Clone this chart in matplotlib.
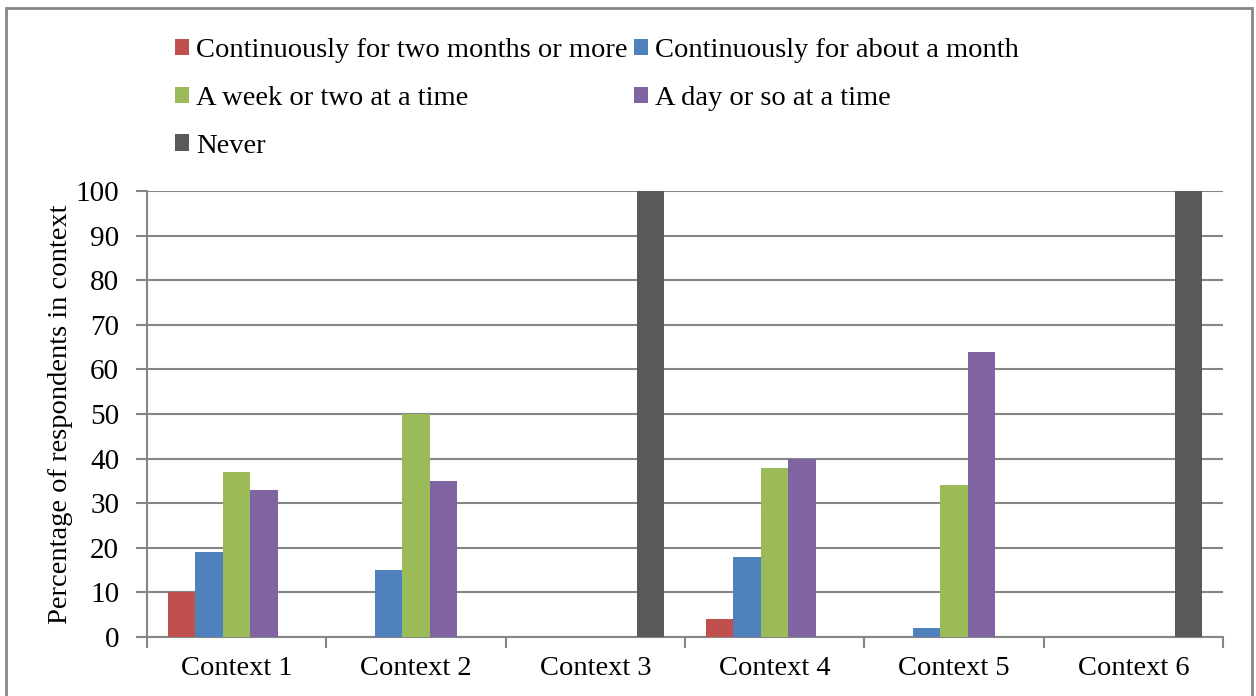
import numpy as np
import matplotlib.pyplot as plt
from matplotlib.patches import Patch, Rectangle

contexts = ['Context 1', 'Context 2', 'Context 3', 'Context 4', 'Context 5', 'Context 6']
series_names = ['Continuously for two months or more', 'Continuously for about a month',
                'A week or two at a time', 'A day or so at a time', 'Never']
two_months = [10, 0, 0, 4, 0, 0]
one_month = [19, 15, 0, 18, 2, 0]
week_or_two = [37, 50, 0, 38, 34, 0]
day_or_so = [33, 35, 0, 40, 64, 0]
never = [0, 0, 100, 0, 0, 100]
colors = ['#C0504D', '#4F81BD', '#9BBB59', '#8064A2', '#595959']

plt.rcParams['font.family'] = ['Liberation Serif', 'DejaVu Serif']

fig = plt.figure(figsize=(12.56, 6.96), dpi=100)
ax = fig.add_axes([147 / 1256, 1 - 637 / 696, (1223 - 147) / 1256, (637 - 191) / 696])

# chart border
fig.patches.append(Rectangle((6 / 1256, -0.1), (1252 - 6) / 1256, 1.1 - 8 / 696,
                             transform=fig.transFigure, fill=False,
                             edgecolor='#868686', linewidth=2))

x = np.arange(len(contexts))
width = 1 / 6.5
all_series = [two_months, one_month, week_or_two, day_or_so, never]
handles = []
for i, vals in enumerate(all_series):
    ax.bar(x + (i - 2) * width, vals, width, color=colors[i], zorder=3)
    handles.append(Patch(facecolor=colors[i], label=series_names[i]))

ax.set_xlim(-0.5, len(contexts) - 0.5)
ax.set_ylim(0, 100)
ax.set_yticks(range(0, 101, 10))
ax.yaxis.grid(True, color='#868686', linewidth=1.5, zorder=0)
ax.set_axisbelow(True)

ax.set_xticks(x)
ax.set_xticklabels(contexts)
ax.set_xticks(np.arange(-0.5, len(contexts)), minor=True)
ax.tick_params(axis='x', which='major', length=0, pad=14, labelsize=20.5)
ax.tick_params(axis='x', which='minor', length=8, width=1.5, color='#868686')
ax.tick_params(axis='y', length=8, width=1.5, color='#868686', labelsize=21, pad=12)

for side in ['top', 'right']:
    ax.spines[side].set_visible(False)
for side in ['left', 'bottom']:
    ax.spines[side].set_color('#868686')
    ax.spines[side].set_linewidth(1.5)

ax.set_ylabel('Percentage of respondents in context', fontsize=20.5, labelpad=2)

order = [0, 2, 4, 1, 3]
fig.legend([handles[i] for i in order], [series_names[i] for i in order],
           ncol=2, loc='upper left', bbox_to_anchor=(175 / 1256, 1 - 38 / 696),
           frameon=False, fontsize=20.5, handlelength=0.5, handleheight=0.5,
           handletextpad=0.25, labelspacing=0.8, columnspacing=0.2,
           borderpad=0, borderaxespad=0)

plt.savefig('out.png', dpi=100)
